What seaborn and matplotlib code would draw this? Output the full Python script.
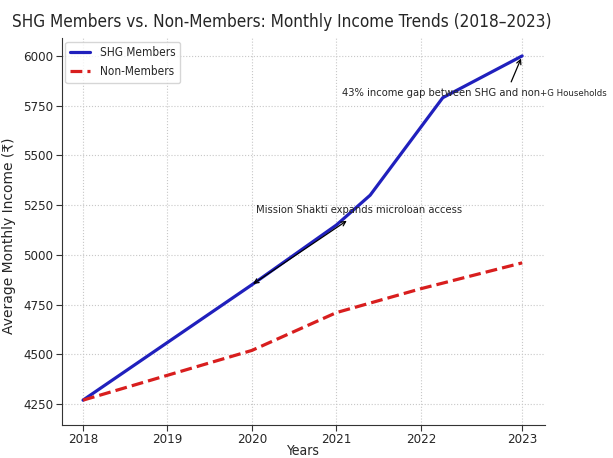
import matplotlib
matplotlib.use("Agg")
import matplotlib.pyplot as plt
from matplotlib import font_manager
from matplotlib.text import Text
import seaborn as sns
import pandas as pd

# ---- data ----
title = "SHG Members vs. Non-Members: Monthly Income Trends (2018\u20132023)"
series_names = ["SHG Members", "Non-Members"]
shg_x = [2018, 2019, 2020, 2021, 2021.4, 2022.26, 2023.2]
shg_income = [4270, 4560, 4850, 5150, 5300, 5790, 6000]
non_x = [2018, 2019, 2020, 2021, 2022, 2023.2]
non_income = [4270, 4395, 4520, 4710, 4830, 4960]
tick_labels = ["2018", "2019", "2020", "2021", "2022", "2023"]
tick_pos = [2018, 2019, 2020, 2021, 2022, 2023.2]
y_ticks = [4250, 4500, 4750, 5000, 5250, 5500, 5750, 6000]
note_gap = "43% income gap between SHG and non"
note_gap_tail = "+G Households"
note_mission = "Mission Shakti expands microloan access"

df = pd.concat([
    pd.DataFrame({"x": shg_x, "income": shg_income, "group": series_names[0]}),
    pd.DataFrame({"x": non_x, "income": non_income, "group": series_names[1]}),
], ignore_index=True)

sns.set_style("ticks")
entries = font_manager.fontManager.ttflist
if any(f.name == "DejaVu Sans" and "condensed" in str(f.stretch) for f in entries):
    plt.rcParams["font.family"] = ["DejaVu Sans"]
    plt.rcParams["font.stretch"] = "condensed"
elif any(f.name == "Liberation Sans Narrow" for f in entries):
    plt.rcParams["font.family"] = ["Liberation Sans Narrow", "DejaVu Sans"]
else:
    plt.rcParams["font.family"] = ["DejaVu Sans"]

fig = plt.figure(figsize=(6.13, 4.58), dpi=100)
ax = fig.add_axes([0.101, 0.072, 0.788, 0.845])

blue = "#2020bd"
red = "#d81e1e"
sns.lineplot(data=df, x="x", y="income", hue="group", style="group",
             palette={series_names[0]: blue, series_names[1]: red},
             dashes={series_names[0]: "", series_names[1]: (3.7, 1.6)},
             linewidth=2.3, estimator=None, sort=False, ax=ax)

ax.set_xlim(2017.75, 2023.47)
ax.set_ylim(4145, 6090)
ax.set_xticks(tick_pos)
ax.set_xticklabels(tick_labels)
ax.set_yticks(y_ticks)
ax.tick_params(labelsize=9.5, length=4, color="#333333")
ax.tick_params(axis="x", pad=2)
ax.tick_params(axis="y", pad=2)
ax.grid(True, linestyle=":", color="#c8c8c8", linewidth=0.8)
sns.despine(ax=ax)
for s in ["left", "bottom"]:
    ax.spines[s].set_color("#333333")

ax.set_xlabel("Years", fontsize=10)
ax.xaxis.set_label_coords(0.5, -0.05)
ax.set_ylabel("Average Monthly Income (\u20b9)", fontsize=10, fontstretch="normal")
ax.yaxis.set_label_coords(-0.095, 0.49)

leg = ax.legend(loc="upper left", fontsize=8.5, frameon=True, handlelength=1.7,
                bbox_to_anchor=(0.0, 1.0), borderaxespad=0.3)
leg.get_frame().set_edgecolor("#cccccc")

fig.suptitle(title, x=0.02, y=0.952, ha="left", va="center", fontsize=12.3)

ann = ax.annotate(note_gap, xy=(shg_x[-1], shg_income[-1]), xytext=(2021.07, 5815),
                  fontsize=8, ha="left", va="center",
                  arrowprops=dict(arrowstyle="->", color="black", lw=0.9,
                                  relpos=(0.84, 1.0), shrinkA=2, shrinkB=2))
ax.annotate(note_gap_tail, xy=(1.0, 0.45),
            xycoords=lambda r: Text.get_window_extent(ann, r),
            fontsize=6.8, ha="left", va="center")
ax.annotate(note_mission, xy=(shg_x[2], shg_income[2]), xytext=(2020.05, 5225),
            fontsize=8, ha="left", va="center",
            arrowprops=dict(arrowstyle="<->", color="black", lw=0.9,
                            relpos=(0.48, 0.0), shrinkA=3, shrinkB=1))

fig.savefig("out.png", dpi=100)
